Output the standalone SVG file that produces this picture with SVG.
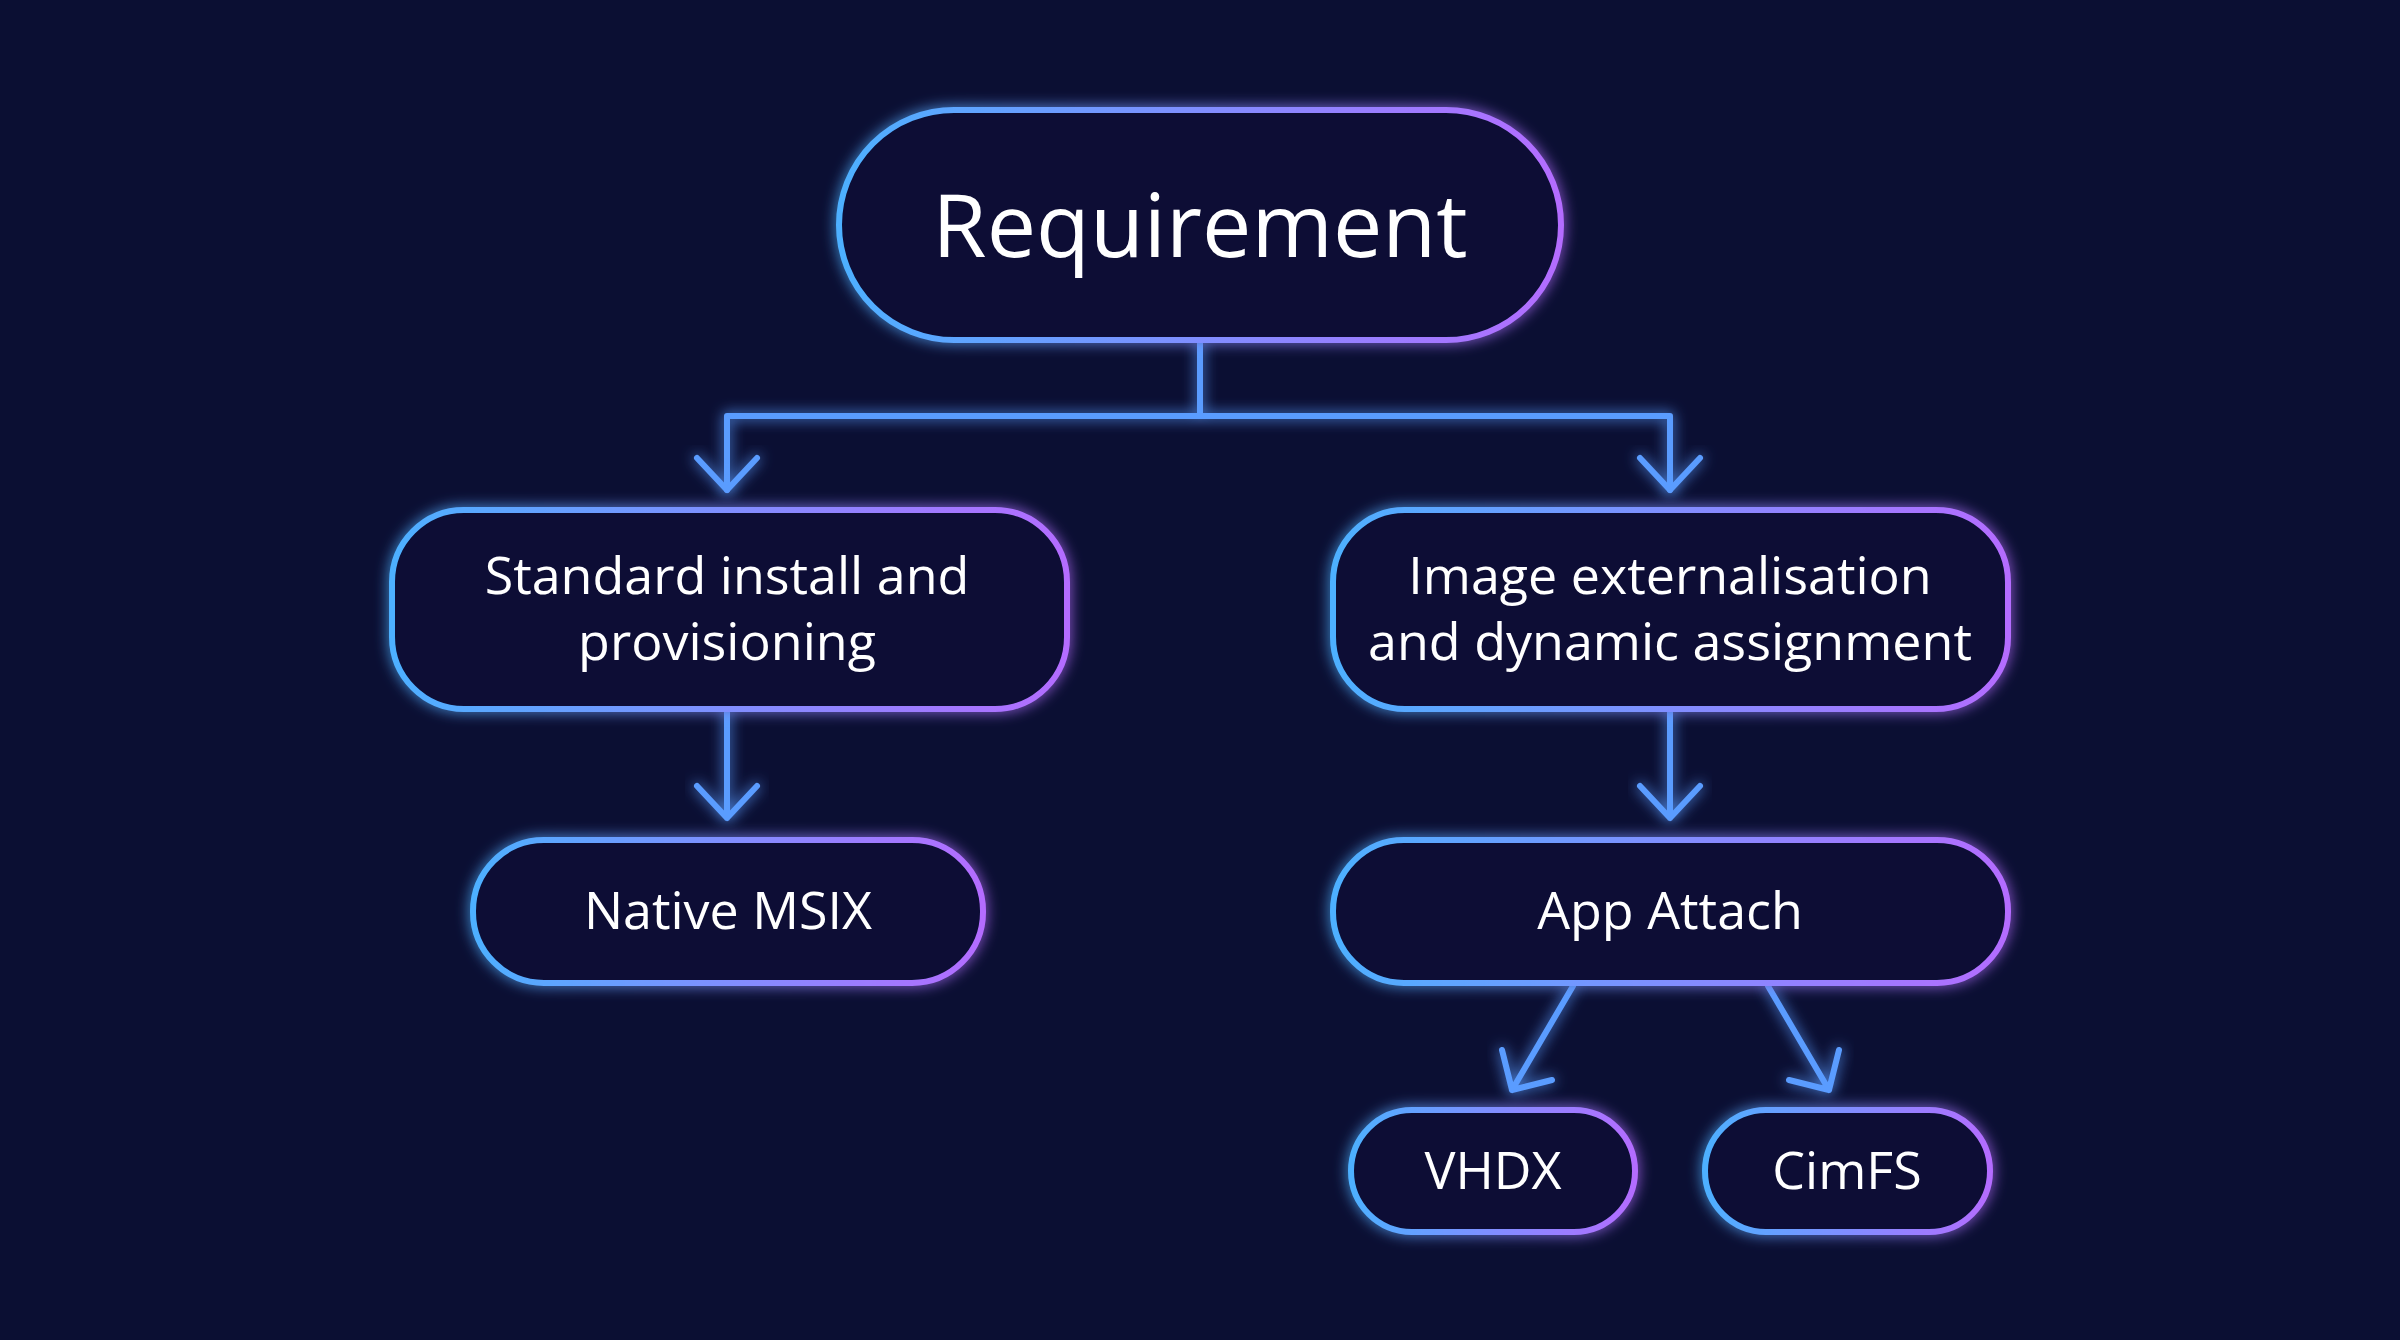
<svg xmlns="http://www.w3.org/2000/svg" width="2400" height="1340" viewBox="0 0 2400 1340">
<defs>
<linearGradient id="g" x1="0" y1="0" x2="1" y2="0"><stop offset="0" stop-color="#4db0ff"/><stop offset="1" stop-color="#b46cff"/></linearGradient>
<filter id="glow" x="-20%" y="-40%" width="140%" height="180%"><feGaussianBlur in="SourceGraphic" stdDeviation="7" result="b"/><feMerge><feMergeNode in="b"/><feMergeNode in="SourceGraphic"/></feMerge></filter>
</defs>
<style>
.box{fill:#0b0f35;stroke:url(#g);stroke-width:6;filter:url(#glow)}
.ln{fill:none;stroke:#5a9cff;stroke-width:6;stroke-linecap:round;stroke-linejoin:round;filter:url(#glow)}
.t{font-family:"Open Sans","Noto Sans",sans-serif;fill:#ffffff;text-anchor:middle;font-size:52px}
.big{font-size:88px}
</style>
<rect width="2400" height="1340" fill="#0b0f33"/>
<g id="connectors">
<path class="ln" d="M1200 340V416M727 490V416H1670V490"/>
<path class="ln" d="M697 458L727 490L757 458M1640 458L1670 490L1700 458"/>
<path class="ln" d="M727 709V818M697 786L727 818L757 786"/>
<path class="ln" d="M1670 709V818M1640 786L1670 818L1700 786"/>
<path class="ln" d="M1573 986L1512 1090M1502 1050L1512 1090L1552 1080"/>
<path class="ln" d="M1768 986L1829 1090M1789 1080L1829 1090L1839 1050"/>
</g>
<g id="n-req"><rect class="box" x="839" y="110" width="722" height="230" rx="115"/><text class="t big" x="1200" y="257">Requirement</text></g>
<g id="n-std"><rect class="box" x="392" y="510" width="675" height="199" rx="72"/><text class="t" x="727" y="594">Standard install and</text><text class="t" x="727" y="660">provisioning</text></g>
<g id="n-img"><rect class="box" x="1333" y="510" width="675" height="199" rx="72"/><text class="t" x="1670" y="594">Image externalisation</text><text class="t" x="1670" y="660">and dynamic assignment</text></g>
<g id="n-msix"><rect class="box" x="473" y="840" width="510" height="143" rx="71"/><text class="t" x="728" y="929">Native MSIX</text></g>
<g id="n-app"><rect class="box" x="1333" y="840" width="675" height="143" rx="71"/><text class="t" x="1670" y="929">App Attach</text></g>
<g id="n-vhdx"><rect class="box" x="1351" y="1110" width="284" height="122" rx="61"/><text class="t" x="1493" y="1189">VHDX</text></g>
<g id="n-cim"><rect class="box" x="1705" y="1110" width="285" height="122" rx="61"/><text class="t" x="1847" y="1189">CimFS</text></g>
</svg>
